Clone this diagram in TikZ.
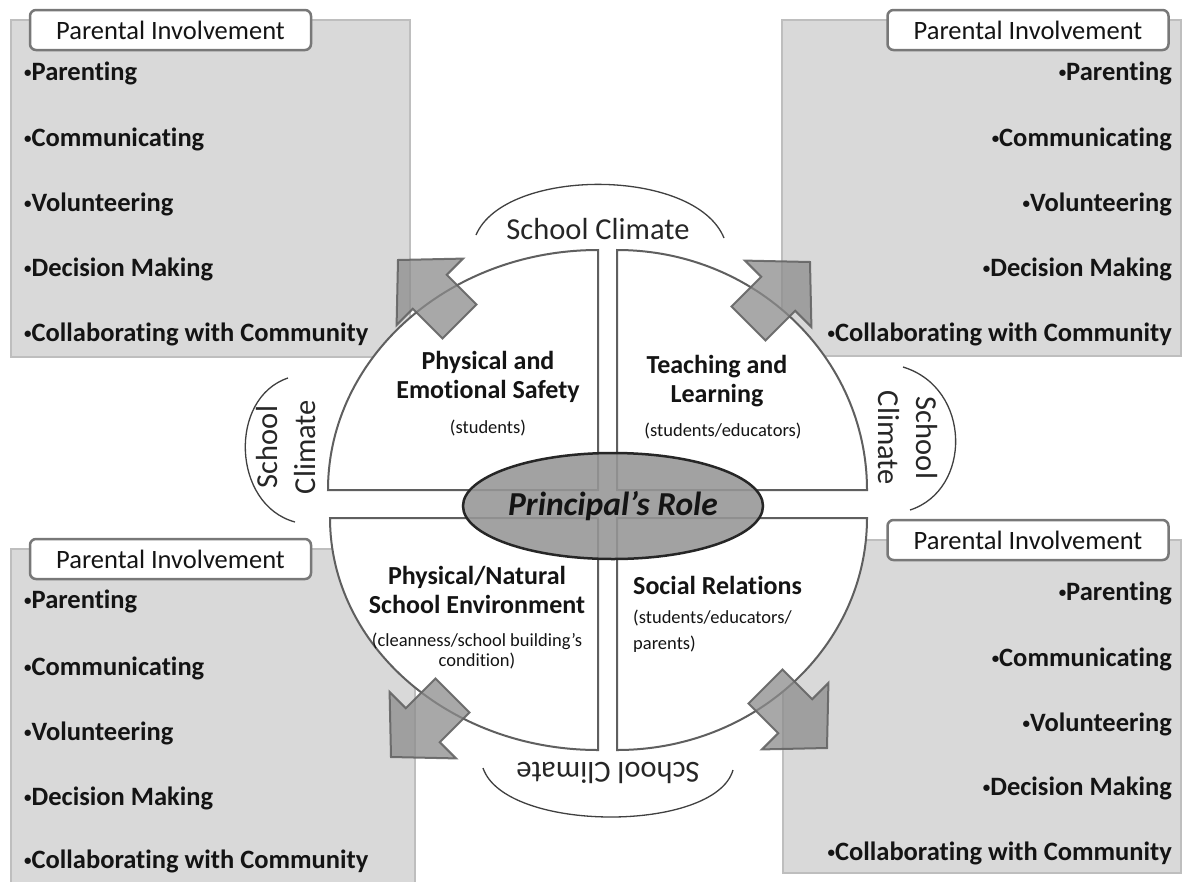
\documentclass[tikz,border=0pt]{standalone}
\usepackage{fontspec}
\setmainfont{Carlito}[Ligatures=NoCommon]
\usetikzlibrary{shapes.geometric}
\definecolor{boxgray}{RGB}{217,217,217}
\definecolor{boxedge}{RGB}{190,190,190}
\definecolor{lbledge}{RGB}{120,120,120}
\definecolor{quadedge}{RGB}{95,95,95}
\definecolor{arrfill}{RGB}{140,140,140}
\definecolor{arredge}{RGB}{100,100,100}
\definecolor{rolefill}{RGB}{150,150,150}
\definecolor{txt}{RGB}{20,20,20}
\newcommand\bul{\raisebox{2.5pt}{\fontsize{15}{15}\selectfont •}}
\newcommand\fatarrow[3]{\draw[arrowsty, shift={(#1,#2)}, rotate=#3] (0,0) -- (-45,-47) -- (-45,-24) -- (-87,-24) -- (-87,24) -- (-45,24) -- (-45,47) -- cycle;}
\tikzset{
  graybox/.style={fill=boxgray, draw=boxedge, line width=1.2pt, inner sep=0pt, outer sep=0pt},
  labelbox/.style={draw=lbledge, fill=white, rounded corners=6pt, line width=2.5pt, minimum width=281pt, minimum height=40pt, inner sep=0pt, text=txt, font=\fontsize{26.5}{26.5}\selectfont},
  quad/.style={fill=white, draw=quadedge, line width=2pt},
  itemL/.style={anchor=base west, inner sep=0pt, text=txt, font=\fontsize{26.5}{26.5}\selectfont\bfseries},
  itemR/.style={anchor=base east, inner sep=0pt, text=txt, font=\fontsize{26.5}{26.5}\selectfont\bfseries},
  qtitle/.style={align=center, inner sep=0pt, text=txt, font=\fontsize{26}{29}\selectfont\bfseries},
  qsmall/.style={align=center, inner sep=0pt, text=txt, font=\fontsize{18.5}{20}\selectfont},
  climarc/.style={draw=black!75, line width=1.3pt},
  climtext/.style={align=center, inner sep=0pt, text=black!85, font=\fontsize{30.5}{38}\selectfont},
  arrowsty/.style={fill=arrfill, fill opacity=0.75, draw=arredge, draw opacity=0.9, line width=2pt, line join=miter},
  rolesty/.style={ellipse, fill=rolefill, fill opacity=0.88, text opacity=1, draw=black!85, line width=2.5pt, minimum width=300pt, minimum height=106pt, inner sep=0pt, font=\fontsize{33.5}{33.5}\selectfont\bfseries\itshape, text=txt}
}
\begin{document}
\begin{tikzpicture}[x=1pt,y=-1pt]
\useasboundingbox[fill=white] (0,0) rectangle (1183,881);
% gray boxes
\node[graybox, minimum width=399pt, minimum height=337pt] (boxTL) at (210.5,188.5) {};
\node[graybox, minimum width=399pt, minimum height=336pt] (boxTR) at (981.5,188) {};
\node[graybox, minimum width=404pt, minimum height=340pt] (boxBL) at (213,719) {};
\node[graybox, minimum width=398pt, minimum height=333pt] (boxBR) at (982,706.5) {};
% labels
\node[labelbox] (lblTL) at (170.5,30) {Parental Involvement};
\node[labelbox] (lblTR) at (1028,30) {Parental Involvement};
\node[labelbox] (lblBL) at (170.5,559) {Parental Involvement};
\node[labelbox] (lblBR) at (1028,540) {Parental Involvement};
% items
\foreach \t/\y [count=\i] in {Parenting/80,Communicating/146,Volunteering/211,Decision Making/276,Collaborating with Community/341}
  \node[itemL] (tl\i) at (24,\y) {\bul\t};
\foreach \t/\y [count=\i] in {Parenting/80,Communicating/146,Volunteering/211,Decision Making/276,Collaborating with Community/341}
  \node[itemR] (tr\i) at (1172,\y) {\bul\t};
\foreach \t/\y [count=\i] in {Parenting/608,Communicating/675,Volunteering/740,Decision Making/805,Collaborating with Community/868}
  \node[itemL] (bl\i) at (24,\y) {\bul\t};
\foreach \t/\y [count=\i] in {Parenting/600,Communicating/666,Volunteering/731,Decision Making/795,Collaborating with Community/860}
  \node[itemR] (br\i) at (1172,\y) {\bul\t};
% quadrants
\draw[quad] (598,490) -- (328,490) .. controls (328,357.4) and (448.9,250) .. (598,250) -- cycle;
\draw[quad] (617,490) -- (867,490) .. controls (867,357.4) and (755.1,250) .. (617,250) -- cycle;
\draw[quad] (598,518) -- (330,518) .. controls (330,646.1) and (450,750) .. (598,750) -- cycle;
\draw[quad] (617,518) -- (867,518) .. controls (867,646.1) and (755.1,750) .. (617,750) -- cycle;
% quadrant texts
\node[qtitle] (tq1) at (488,377) {Physical and\\Emotional Safety};
\node[qsmall] (sq1) at (488,428) {(students)};
\node[qtitle] (tq2) at (717,381) {Teaching and\\Learning};
\node[qsmall] (sq2) at (723,431) {(students/educators)};
\node[qtitle] (tq3) at (477,590) {Physical/Natural\\School Environment};
\node[qsmall] (sq3) at (477,651) {(cleanness/school building’s\\condition)};
\node[qtitle, anchor=west] (tq4) at (633,585) {Social Relations};
\node[qsmall, anchor=north west, align=left, font=\fontsize{18.5}{26}\selectfont] (sq4) at (633,610) {(students/educators/\\parents)};
% school climate arcs
\draw[climarc] (476,235) .. controls (505,167) and (695,167) .. (724,238);
\node[climtext] (scT) at (598,229) {School Climate};
\draw[climarc] (288,378) .. controls (228,398) and (232,505) .. (295,522);
\node[climtext, rotate=90] (scL) at (286,447) {School\\Climate};
\draw[climarc] (903,367) .. controls (972,388) and (972,490) .. (910,510);
\node[climtext, rotate=-90] (scR) at (908,438) {School\\Climate};
\draw[climarc] (483,768) .. controls (505,833) and (715,833) .. (733,770);
\node[climtext, rotate=180] (scB) at (608,773) {School Climate};
% arrows
\fatarrow{398}{260}{135}
\fatarrow{810}{262}{45}
\fatarrow{391}{757}{225}
\fatarrow{827}{748}{-45}
% center
\node[rolesty] (role) at (613,506) {Principal’s Role};
\end{tikzpicture}
\end{document}
